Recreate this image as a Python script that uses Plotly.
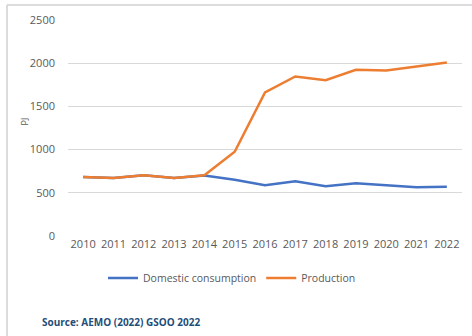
import plotly.graph_objects as go

years = list(range(2010, 2023))
domestic = [684, 672, 703, 672, 700, 650, 588, 634, 576, 611, 588, 565, 569]
production = [684, 672, 703, 672, 703, 975, 1661, 1846, 1804, 1923, 1915, 1961, 2007]
y_ticks = [0, 500, 1000, 1500, 2000, 2500]

W, H = 472, 336
L, R, T, B = 68, 10, 20, 100
pw, ph = W - L - R, H - T - B

def px(x):
    return (x - L) / pw

def py(y):
    return (H - B - y) / ph

font = "Open Sans"
fig = go.Figure()
fig.add_trace(go.Scatter(x=years, y=domestic, mode="lines", name="Domestic consumption",
                         line=dict(color="#4472C4", width=2.5)))
fig.add_trace(go.Scatter(x=years, y=production, mode="lines", name="Production",
                         line=dict(color="#ED7D31", width=2.5)))

fig.update_layout(
    width=W, height=H,
    margin=dict(l=L, r=R, t=T, b=B),
    paper_bgcolor="white", plot_bgcolor="white",
    font=dict(family=font, size=11, color="#595959"),
    showlegend=True,
    legend=dict(orientation="h", x=px(232), xanchor="center", y=py(278), yanchor="middle",
                font=dict(size=10.5, color="#595959"), itemwidth=30, tracegroupgap=0),
    xaxis=dict(range=[2009.5, 2022.5], tickmode="array", tickvals=years,
               ticktext=[str(y) for y in years], showgrid=False, zeroline=False,
               showline=False, ticks="", tickfont=dict(size=11, color="#595959")),
    yaxis=dict(range=[0, 2500], tickmode="array", tickvals=y_ticks,
               showgrid=True, gridcolor="#D9D9D9", gridwidth=1, zeroline=False,
               showline=False, ticks="", ticklabelstandoff=12,
               tickfont=dict(size=11, color="#595959")),
    annotations=[
        dict(text="PJ", x=px(15), y=py(122), xref="paper", yref="paper", showarrow=False,
             textangle=-90, font=dict(size=9, color="#595959")),
        dict(text="<b>Source: AEMO (2022) GSOO 2022</b>", x=px(40), y=py(322), xref="paper", yref="paper",
             xanchor="left", yanchor="middle", showarrow=False,
             font=dict(size=10, color="#1F4E79", family=font)),
    ],
    shapes=[
        dict(type="line", xref="paper", yref="paper", x0=px(7), x1=px(472), y0=py(5), y1=py(5),
             line=dict(color="#D0D0D0", width=1.5)),
        dict(type="line", xref="paper", yref="paper", x0=px(7), x1=px(7), y0=py(5), y1=py(336),
             line=dict(color="#D0D0D0", width=1.5)),
    ],
)

fig.write_html("out.html")
